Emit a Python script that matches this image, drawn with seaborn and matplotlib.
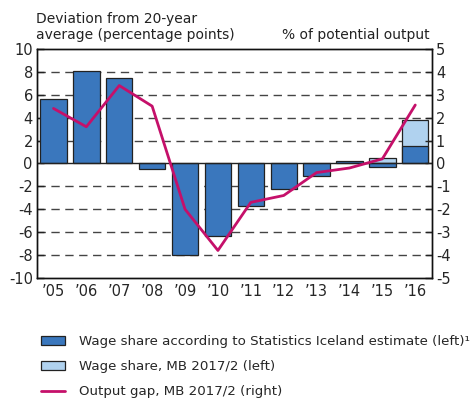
import numpy as np
import matplotlib.pyplot as plt
import matplotlib.patches as mpatches
import matplotlib.lines as mlines
import seaborn as sns
import pandas as pd

years = ['’05', '’06', '’07', '’08', '’09', '’10', '’11', '’12', '’13', '’14', '’15', '’16']
wage_share_si = [5.6, 8.1, 7.5, -0.5, -8.0, -6.3, -3.7, -2.2, -1.1, 0.2, -0.3, 1.55]
wage_share_mb = [np.nan] * 10 + [0.5, 3.75]
output_gap = [2.4, 1.6, 3.4, 2.5, -2.0, -3.8, -1.7, -1.4, -0.4, -0.2, 0.2, 2.55]
left_ticks = list(range(-10, 11, 2))
right_ticks = list(range(-5, 6))

dark_blue = '#3a77bd'
light_blue = '#b0d2ef'
gap_col = '#c5106a'

sns.set_style('white')
plt.rcParams['font.family'] = ['DejaVu Sans']
plt.rcParams['axes.unicode_minus'] = False

df = pd.DataFrame({'year': years, 'si': wage_share_si, 'mb': wage_share_mb, 'gap': output_gap})

fig = plt.figure(figsize=(4.71, 4.04), dpi=100)
ax = fig.add_axes([0.0786, 0.312, 0.838, 0.567])

# light bars behind, dark in front
sns.barplot(data=df, x='year', y='mb', color=light_blue, edgecolor='#222222',
            linewidth=0.9, width=0.8, saturation=1, ax=ax, zorder=2)
sns.barplot(data=df, x='year', y='si', color=dark_blue, edgecolor='#222222',
            linewidth=0.9, width=0.8, saturation=1, ax=ax, zorder=2)

ax.set_ylim(-10, 10)
ax.set_xlim(-0.5, 11.5)
for v in [-8, -6, -4, -2, 2, 4, 6, 8]:
    ax.axhline(v, color='#444444', lw=1, ls=(0, (6, 4)), zorder=0.5)
ax.axhline(0, color='#222222', lw=1, zorder=3)

ax2 = ax.twinx()
sns.lineplot(x=np.arange(len(years)), y=df['gap'], color=gap_col, lw=2, ax=ax2)
ax2.set_ylim(-5, 5)
ax2.set_yticks(right_ticks)
ax2.set_yticklabels([str(v) for v in right_ticks])
ax2.set_ylabel('')
ax.set_ylabel('')
ax.set_xlabel('')

ax.set_xticks(range(len(years)))
ax.set_xticklabels(years)
ax.set_xticks(np.arange(-0.5, 12, 1), minor=True)
ax.set_yticks(left_ticks)
ax.set_yticklabels([str(v) for v in left_ticks])
ax.tick_params(axis='x', which='major', length=0, labelsize=10.5, pad=4)
ax.tick_params(axis='x', which='minor', length=5, width=1, direction='out', color='#222222')
ax.tick_params(axis='y', which='major', length=5, width=1, direction='in', labelsize=10.5,
               color='#222222', pad=3)
ax2.tick_params(axis='y', which='major', length=5, width=1, direction='in', labelsize=10.5,
                color='#222222', pad=3)

for a in (ax, ax2):
    for s in a.spines.values():
        s.set_color('#111111')
        s.set_linewidth(1)

fig.text(0.076, 0.895, 'Deviation from 20-year\naverage (percentage points)', fontsize=10,
         ha='left', va='bottom', linespacing=1.2, color='#222222')
fig.text(0.912, 0.895, '% of potential output', fontsize=10, ha='right', va='bottom',
         color='#222222')

handles = [
    mpatches.Patch(facecolor=dark_blue, edgecolor='#222222', lw=0.9),
    mpatches.Patch(facecolor=light_blue, edgecolor='#222222', lw=0.9),
    mlines.Line2D([], [], color=gap_col, lw=2),
]
labels = ['Wage share according to Statistics Iceland estimate (left)¹',
          'Wage share, MB 2017/2 (left)',
          'Output gap, MB 2017/2 (right)']
fig.legend(handles, labels, loc='upper left', bbox_to_anchor=(0.075, 0.183), frameon=False,
           fontsize=9.6, handlelength=1.8, handleheight=0.7, handletextpad=1.1,
           labelspacing=0.9, borderaxespad=0)

fig.savefig('out.png', dpi=100)
